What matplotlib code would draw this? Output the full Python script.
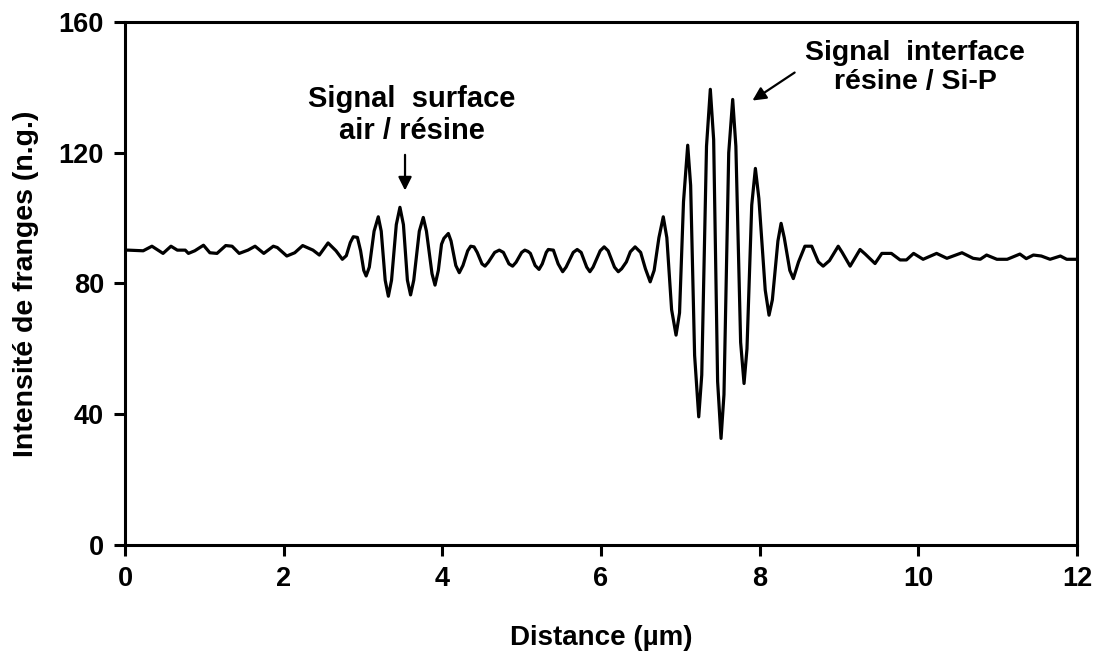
import numpy as np
import matplotlib.pyplot as plt

plt.rcParams['font.family'] = ['Liberation Sans', 'DejaVu Sans']
plt.rcParams['font.weight'] = 'bold'

# profile (distance in um, intensity in n.g.)
# flat part before the first signal
dist_a = [0.00, 0.04, 0.23, 0.34, 0.48, 0.58, 0.66, 0.76, 0.80, 0.88,
          0.99, 1.07, 1.16, 1.27, 1.35, 1.44, 1.55, 1.64, 1.75, 1.87,
          1.92, 2.04, 2.14, 2.24, 2.37, 2.45, 2.56, 2.66]
int_a = [90.2, 90.2, 90.0, 91.4, 89.2, 91.4, 90.2, 90.2, 89.2, 90.0,
         91.7, 89.4, 89.2, 91.6, 91.4, 89.2, 90.2, 91.4, 89.2, 91.4,
         91.0, 88.4, 89.4, 91.6, 90.2, 88.7, 92.4, 90.0]

# air / resin surface signal and the ripples after it
dist_b = [2.74, 2.79, 2.84, 2.878, 2.93, 2.97, 3.01, 3.04, 3.08, 3.14,
          3.193, 3.23, 3.28, 3.32, 3.36, 3.42, 3.466, 3.51, 3.56, 3.60,
          3.64, 3.71, 3.76, 3.80, 3.87, 3.908, 3.95, 3.99, 4.02, 4.076,
          4.11, 4.17, 4.214, 4.26, 4.32, 4.358, 4.40, 4.44, 4.50, 4.538,
          4.58, 4.66, 4.718, 4.77, 4.84, 4.886, 4.93, 5.00, 5.04, 5.08,
          5.11, 5.17, 5.219, 5.26, 5.31, 5.336, 5.40, 5.46, 5.517, 5.56,
          5.65, 5.70, 5.75, 5.82, 5.86, 5.90, 5.99, 6.04, 6.09, 6.17,
          6.218, 6.26, 6.32, 6.37]
int_b = [87.4, 88.5, 92.5, 94.3, 94.1, 90.0, 84.0, 82.3, 85.0, 96.0,
         100.4, 96.0, 81.0, 76.1, 81.0, 98.0, 103.3, 98.0, 81.0, 76.5,
         81.0, 96.0, 100.2, 96.0, 83.0, 79.5, 84.0, 92.0, 93.8, 95.3,
         93.0, 85.5, 83.3, 85.5, 90.0, 91.4, 91.2, 89.5, 86.0, 85.3,
         86.5, 89.5, 90.2, 89.5, 86.0, 85.3, 86.5, 89.5, 90.2, 89.8,
         89.2, 85.5, 84.3, 86.0, 89.5, 90.4, 90.2, 86.0, 83.6, 85.0,
         89.5, 90.4, 89.5, 85.0, 83.6, 85.0, 90.0, 91.2, 90.0, 85.0,
         83.6, 84.5, 86.6, 89.7]

# resin / Si-P interface signal
dist_c = [6.43, 6.50, 6.56, 6.62, 6.67, 6.73, 6.785, 6.83, 6.89, 6.946,
          6.99, 7.04, 7.093, 7.13, 7.18, 7.232, 7.27, 7.33, 7.378, 7.42,
          7.47, 7.513, 7.55, 7.61, 7.660, 7.70, 7.76, 7.803, 7.84, 7.90,
          7.946, 7.99, 8.07, 8.118, 8.16, 8.23, 8.27, 8.31, 8.38, 8.424]
int_c = [91.2, 89.5, 84.5, 80.5, 84.0, 94.0, 100.4, 94.0, 72.0, 64.2,
         71.0, 105.0, 122.3, 110.0, 58.0, 39.2, 52.0, 122.0, 139.4, 124.0,
         50.0, 32.6, 46.0, 120.0, 136.3, 122.0, 62.0, 49.4, 60.0, 104.0,
         115.2, 106.0, 78.0, 70.3, 75.0, 93.0, 98.4, 94.0, 84.0, 81.5]

# tail towards the end of the scan
dist_d = [8.49, 8.57, 8.656, 8.74, 8.80, 8.88, 8.99, 9.04, 9.14, 9.265,
          9.33, 9.454, 9.54, 9.66, 9.77, 9.85, 9.94, 10.06, 10.23, 10.36,
          10.55, 10.69, 10.78, 10.86, 10.99, 11.12, 11.28, 11.36, 11.45, 11.55,
          11.66, 11.79, 11.87, 11.98, 12.00]
int_d = [86.6, 91.4, 91.4, 86.6, 85.3, 87.0, 91.4, 89.5, 85.3, 90.4,
         89.0, 86.1, 89.2, 89.2, 87.2, 87.2, 89.2, 87.4, 89.2, 87.7,
         89.4, 87.7, 87.4, 88.7, 87.4, 87.4, 89.0, 87.6, 88.7, 88.4,
         87.4, 88.4, 87.4, 87.4, 87.4]

dist = dist_a + dist_b + dist_c + dist_d
intensity = int_a + int_b + int_c + int_d

fig = plt.figure(figsize=(10.98, 6.54), dpi=100)
ax = fig.add_axes([0.1138, 0.1667, 0.8671, 0.7997])

ax.plot(dist, intensity, color='black', lw=2.3, solid_joinstyle='round')

ax.set_xlim(0, 12)
ax.set_ylim(0, 160)
ax.set_xticks(np.arange(0, 13, 2))
ax.set_yticks(np.arange(0, 161, 40))
ax.tick_params(direction='out', length=8, width=2.2, labelsize=19.5, pad=7)
for s in ax.spines.values():
    s.set_linewidth(2.2)

ax.set_xlabel('Distance (µm)', fontsize=20, fontweight='bold', labelpad=24)
ax.set_ylabel('Intensité de franges (n.g.)', fontsize=20.5, fontweight='bold', labelpad=14)

ax.text(3.62, 131.5, 'Signal  surface\nair / résine', ha='center', va='center',
        fontsize=21, fontweight='bold', linespacing=1.15)
ax.annotate('', xy=(3.53, 107.6), xytext=(3.53, 120.2),
            arrowprops=dict(arrowstyle='-|>', lw=1.6, color='black', mutation_scale=20))

ax.text(9.96, 146.2, 'Signal  interface\nrésine / Si-P', ha='center', va='center',
        fontsize=20.5, fontweight='bold', linespacing=1.15)
ax.annotate('', xy=(7.88, 135.5), xytext=(8.47, 145.0),
            arrowprops=dict(arrowstyle='-|>', lw=1.6, color='black', mutation_scale=20))

fig.savefig('out.png', dpi=100)
